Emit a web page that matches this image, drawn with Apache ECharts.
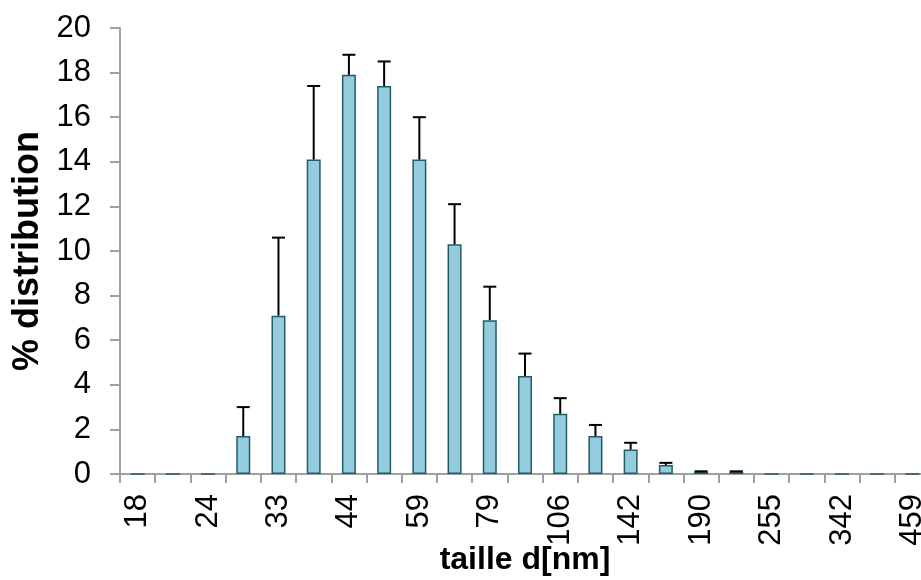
<!DOCTYPE html>
<html>
<head>
<meta charset="utf-8">
<script src="https://cdn.jsdelivr.net/npm/echarts@6/dist/echarts.min.js"></script>
<style>
html,body{margin:0;padding:0;background:#fff;}
#chart{width:921px;height:580px;}
</style>
</head>
<body>
<div id="chart"></div>
<script>
const categories = ['18','21','24','28','33','38','44','51','59','68','79','91','106','122','142','164','190','220','255','295','342','396','459'];
const values = [0,0,0,1.7,7.1,14.1,17.9,17.4,14.1,10.3,6.9,4.4,2.7,1.7,1.1,0.4,0.1,0.1,0,0,0,0,0];
const errorTop = [0,0,0,3.0,10.6,17.4,18.8,18.5,16.0,12.1,8.4,5.4,3.4,2.2,1.4,0.5,0.12,0.12,0,0,0,0,0];
const yTicks = [0,2,4,6,8,10,12,14,16,18,20];

const errData = [];
values.forEach((v, i) => { if (errorTop[i] > v) errData.push([i, v, errorTop[i]]); });

const font = 'Liberation Sans, Arial, sans-serif';
const chart = echarts.init(document.getElementById('chart'), null, {renderer: 'canvas'});
chart.setOption({
  animation: false,
  backgroundColor: '#ffffff',
  grid: {left: 120, top: 28, bottom: 106, right: -9, containLabel: false, outerBoundsMode: 'none'},
  xAxis: {
    type: 'category',
    data: categories,
    name: 'taille d[nm]',
    nameLocation: 'middle',
    nameGap: 70,
    nameMoveOverlap: false,
    nameTextStyle: {fontFamily: font, fontWeight: 'bold', fontSize: 32, color: '#000'},
    axisLine: {lineStyle: {color: '#a0a0a0', width: 2}},
    axisTick: {show: true, interval: 0, length: 9, lineStyle: {color: '#a0a0a0', width: 2}},
    axisLabel: {interval: 1, rotate: 90, margin: 20, fontFamily: font, fontSize: 31, color: '#000'},
    splitLine: {show: false}
  },
  yAxis: {
    type: 'value',
    min: 0, max: 20, interval: 2,
    name: '% distribution',
    nameLocation: 'middle',
    nameRotate: 90,
    nameGap: 74,
    nameMoveOverlap: false,
    nameTextStyle: {fontFamily: font, fontWeight: 'bold', fontSize: 36, color: '#000'},
    axisLine: {show: true, lineStyle: {color: '#a0a0a0', width: 2}},
    axisTick: {show: true, length: 10, lineStyle: {color: '#a0a0a0', width: 2}},
    axisLabel: {margin: 29, fontFamily: font, fontSize: 31, color: '#000',
      formatter: v => yTicks.includes(v) ? String(v) : ''},
    splitLine: {show: false}
  },
  series: [
    {
      type: 'bar',
      data: values,
      barWidth: 14,
      itemStyle: {color: '#93cddd', borderColor: '#235b6b', borderWidth: 1.5},
      z: 2
    },
    {
      type: 'custom',
      data: errData,
      z: 3,
      renderItem: function (params, api) {
        const i = api.value(0);
        const low = api.coord([i, api.value(1)]);
        const high = api.coord([i, api.value(2)]);
        const hw = 6.5;
        const st = {stroke: '#000', lineWidth: 2};
        return {
          type: 'group',
          children: [
            {type: 'line', shape: {x1: low[0], y1: low[1], x2: high[0], y2: high[1]}, style: st},
            {type: 'line', shape: {x1: high[0] - hw, y1: high[1], x2: high[0] + hw, y2: high[1]}, style: st}
          ]
        };
      }
    }
  ]
});
</script>
</body>
</html>
